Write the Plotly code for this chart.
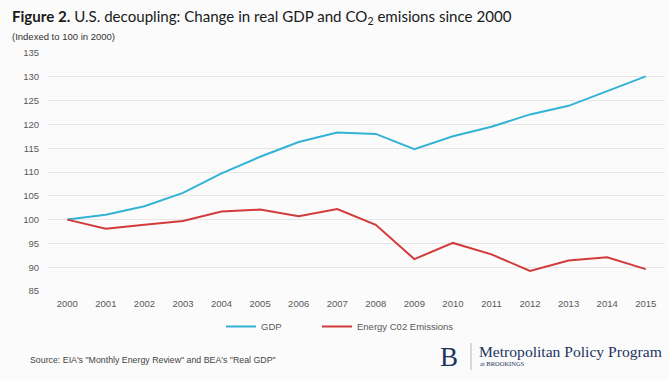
import plotly.graph_objects as go

years = list(range(2000, 2016))
gdp = [100.0, 101.0, 102.8, 105.6, 109.7, 113.2, 116.3, 118.3, 118.0, 114.8, 117.5, 119.5, 122.1, 123.9, 127.0, 130.1]
co2 = [100.0, 98.1, 98.9, 99.7, 101.7, 102.1, 100.7, 102.2, 98.9, 91.7, 95.1, 92.7, 89.2, 91.4, 92.1, 89.6]
y_ticks = list(range(85, 136, 5))

BG = "#fbfbfb"
SANS = "Liberation Sans Narrow, Arial Narrow, Liberation Sans, Arial, sans-serif"
PW, PH = 617, 238
fig = go.Figure()
fig.add_trace(go.Scatter(x=years, y=gdp, mode="lines", name="GDP", legend="legend",
                         line=dict(color="#33b3d6", width=2)))
fig.add_trace(go.Scatter(x=years, y=co2, mode="lines", name="Energy C02 Emissions", legend="legend2",
                         line=dict(color="#d13b3b", width=2)))

leg_common = dict(orientation="h", xanchor="left", yanchor="top", y=-(312-291)/PH,
                  font=dict(family=SANS, size=9.5, color="#595959"), itemwidth=30,
                  bgcolor="rgba(0,0,0,0)")

fig.update_layout(
    width=669, height=380,
    margin=dict(l=48, r=4, t=53, b=89, autoexpand=False),
    paper_bgcolor=BG, plot_bgcolor=BG,
    font=dict(family=SANS, size=9, color="#595959"),
    showlegend=True,
    legend=dict(x=(221-48)/PW, **leg_common),
    legend2=dict(x=(317-48)/PW, **leg_common),
    xaxis=dict(range=[1999.5, 2015.5], tickmode="array", tickvals=years,
               ticktext=[str(y) for y in years], showgrid=False, zeroline=False,
               showline=False, ticks="", ticklabelstandoff=5, automargin=False,
               tickfont=dict(family=SANS, size=9.5, color="#595959")),
    yaxis=dict(range=[85, 135], tickvals=y_ticks, showgrid=True,
               gridcolor="#e6e6e6", gridwidth=1, zeroline=False, showline=False,
               ticks="", ticklabelstandoff=8, automargin=False,
               tickfont=dict(family=SANS, size=9.5, color="#595959")),
)

# Title and subtitle
fig.add_annotation(xref="paper", yref="paper", x=-38/PW, y=1 + (53-17)/PH, xanchor="left", yanchor="middle",
                   text="<b>Figure 2.</b> U.S. decoupling: Change in real GDP and CO<sub>2</sub> emisions since 2000",
                   showarrow=False, font=dict(family="Lato, sans-serif", size=15.1, color="#1a1a1a"))
fig.add_annotation(xref="paper", yref="paper", x=-38/PW, y=1 + (53-36)/PH, xanchor="left", yanchor="middle",
                   text="(Indexed to 100 in 2000)", showarrow=False,
                   font=dict(family=SANS, size=9.5, color="#333333"))

# Source
fig.add_annotation(xref="paper", yref="paper", x=-20/PW, y=-(360-291)/PH, xanchor="left", yanchor="middle",
                   text="Source: EIA's \"Monthly Energy Review\" and BEA's \"Real GDP\"", showarrow=False,
                   font=dict(family=SANS, size=8.8, color="#444444"))

# Brookings logo
fig.add_annotation(xref="paper", yref="paper", x=(449-48)/PW, y=-(357-291)/PH, xanchor="center", yanchor="middle",
                   text="B", showarrow=False,
                   font=dict(family="Liberation Serif, serif", size=27, color="#1e3460"))
fig.add_shape(type="line", xref="paper", yref="paper", x0=(471-48)/PW, x1=(471-48)/PW,
              y0=-(343-291)/PH, y1=-(370-291)/PH, line=dict(color="#b5b5b5", width=1))
fig.add_annotation(xref="paper", yref="paper", x=(477-48)/PW, y=-(351-291)/PH, xanchor="left", yanchor="middle",
                   text="Metropolitan Policy Program", showarrow=False,
                   font=dict(family="Liberation Serif, serif", size=15.6, color="#1e3460"))
fig.add_annotation(xref="paper", yref="paper", x=(478-48)/PW, y=-(363.5-291)/PH, xanchor="left", yanchor="middle",
                   text="at BROOKINGS", showarrow=False,
                   font=dict(family="Liberation Serif, serif", size=6.5, color="#1e3460"))

fig.write_html("out.html", config={"displayModeBar": False},
               post_script="document.body.style.margin='0';")
